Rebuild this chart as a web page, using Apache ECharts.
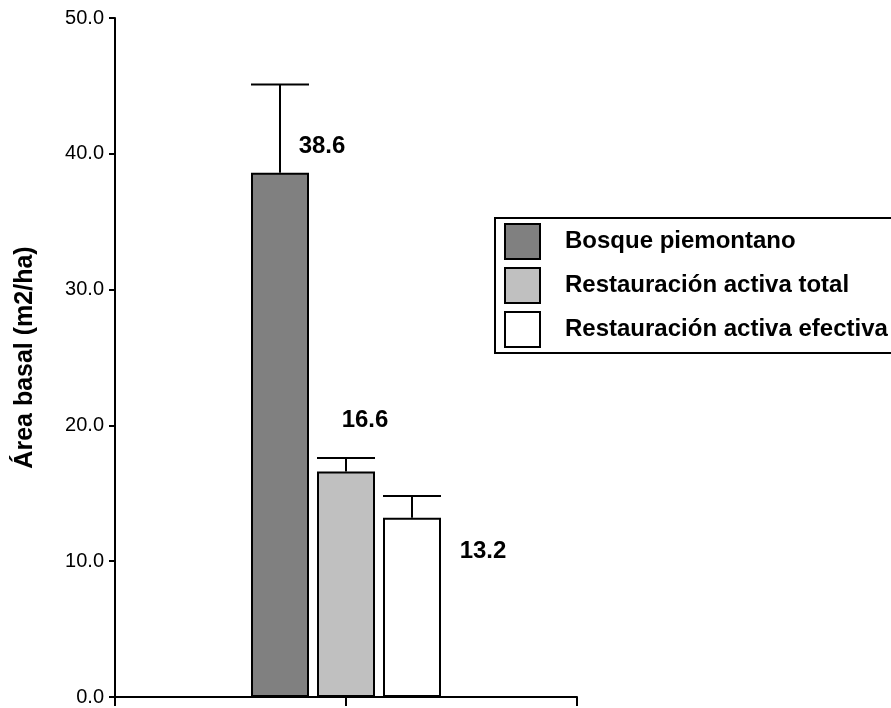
<!DOCTYPE html>
<html>
<head>
<meta charset="utf-8">
<script src="https://cdn.jsdelivr.net/npm/echarts@6/dist/echarts.min.js"></script>
<style>
html,body{margin:0;padding:0;background:#fff;}
#chart{width:891px;height:708px;}
</style>
</head>
<body>
<div id="chart"></div>
<script>
// ---- data ----
var categories = [''];
var seriesNames = ['Bosque piemontano', 'Restauración activa total', 'Restauración activa efectiva'];
var means = [38.6, 16.6, 13.2];
var errors = [6.5, 1.0, 1.6];
var yTicks = [0, 10, 20, 30, 40, 50];

// ---- styling ----
var fills = ['#808080', '#c0c0c0', '#ffffff'];
var labelOffsets = [[42, -26], [19, -51], [71, 34]];
var BAR_W = 58, BAR_GAP = 8;
var FONT = 'Liberation Sans, Arial, sans-serif';

var chart = echarts.init(document.getElementById('chart'), null, {renderer: 'canvas'});

var series = [];
seriesNames.forEach(function (name, i) {
  series.push({
    name: name,
    type: 'bar',
    xAxisIndex: 0,
    barWidth: BAR_W,
    barGap: (BAR_GAP / BAR_W * 100) + '%',
    data: [means[i]],
    itemStyle: {color: fills[i], borderColor: '#000', borderWidth: 2},
    label: {
      show: true,
      position: 'top',
      distance: 0,
      align: 'center',
      verticalAlign: 'middle',
      offset: labelOffsets[i],
      formatter: function (p) { return p.value.toFixed(1); },
      fontFamily: FONT,
      fontWeight: 'bold',
      fontSize: 24,
      color: '#000'
    },
    z: 2
  });
});

// error bars (upper only), drawn through the axes
var errData = means.map(function (m, i) { return [0, m, m + errors[i], i]; });
series.push({
  type: 'custom',
  xAxisIndex: 0,
  data: errData,
  z: 5,
  silent: true,
  renderItem: function (params, api) {
    var idx = api.value(3);
    var n = means.length;
    var center = api.coord([api.value(0), 0])[0];
    var total = n * BAR_W + (n - 1) * BAR_GAP;
    var x = center - total / 2 + idx * (BAR_W + BAR_GAP) + BAR_W / 2;
    var yLow = api.coord([api.value(0), api.value(1)])[1];
    var yHigh = api.coord([api.value(0), api.value(2)])[1];
    var style = {stroke: '#000', lineWidth: 2};
    return {
      type: 'group',
      children: [
        {type: 'line', shape: {x1: x, y1: yLow, x2: x, y2: yHigh}, style: style},
        {type: 'line', shape: {x1: x - BAR_W / 2, y1: yHigh, x2: x + BAR_W / 2, y2: yHigh}, style: style}
      ]
    };
  }
});

var option = {
  backgroundColor: '#fff',
  animation: false,
  grid: {left: 115, right: 314, top: 18, bottom: 11, containLabel: false},
  legend: {
    orient: 'vertical',
    left: 495,
    top: 218,
    data: seriesNames,
    itemWidth: 35,
    itemHeight: 35,
    itemGap: 7,
    padding: [5, 20, 5, 9],
    borderColor: '#000',
    borderWidth: 2,
    borderRadius: 0,
    icon: 'rect',
    selectedMode: false,
    textStyle: {
      fontFamily: FONT,
      fontWeight: 'bold',
      fontSize: 24,
      color: '#000',
      padding: [0, 0, 0, 20]
    }
  },
  xAxis: [
    {
      type: 'category',
      data: categories,
      axisLine: {lineStyle: {color: '#000', width: 2}},
      axisTick: {show: true, alignWithLabel: true, length: 9, lineStyle: {color: '#000', width: 2}},
      axisLabel: {show: false},
      splitLine: {show: false}
    },
    {
      type: 'category',
      position: 'bottom',
      data: categories,
      axisLine: {show: false},
      axisTick: {show: true, length: 9, lineStyle: {color: '#000', width: 2}},
      axisLabel: {show: false},
      splitLine: {show: false}
    }
  ],
  yAxis: {
    type: 'value',
    min: yTicks[0],
    max: yTicks[yTicks.length - 1],
    interval: yTicks[1] - yTicks[0],
    name: 'Área basal (m2/ha)',
    nameLocation: 'middle',
    nameGap: 77,
    nameTextStyle: {fontFamily: FONT, fontWeight: 'bold', fontSize: 25, color: '#000'},
    axisLine: {show: true, lineStyle: {color: '#000', width: 2}},
    axisTick: {show: true, length: 6, lineStyle: {color: '#000', width: 2}},
    axisLabel: {
      margin: 11,
      fontFamily: FONT,
      fontSize: 20,
      color: '#000',
      formatter: function (v) { return v.toFixed(1); }
    },
    splitLine: {show: false}
  },
  series: series
};
chart.setOption(option);
</script>
</body>
</html>
